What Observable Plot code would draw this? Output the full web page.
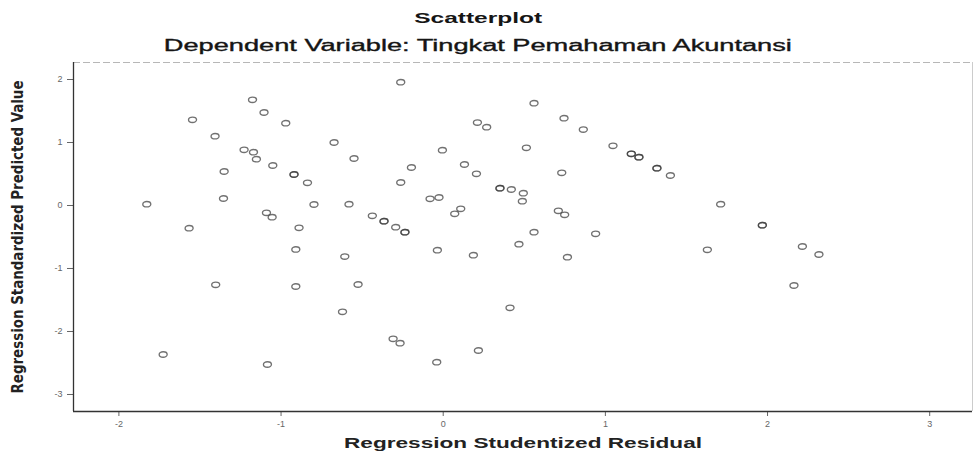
<!DOCTYPE html>
<html><head><meta charset="utf-8">
<script src="https://cdn.jsdelivr.net/npm/d3@7"></script>
<script src="https://cdn.jsdelivr.net/npm/@observablehq/plot@0.6"></script>
<style>
body{margin:0;background:#fff;width:975px;height:458px;overflow:hidden;font-family:"Liberation Sans",Arial,sans-serif;}
#head{position:relative;height:58px;width:975px;}
.t{position:absolute;left:0;width:975px;box-sizing:border-box;padding-right:19px;text-align:center;color:#151515;}
.t span{display:inline-block;white-space:nowrap;transform-origin:center;}
#t1{top:9px;line-height:18px;font-size:15px;font-weight:bold;}
#t2{top:37px;line-height:18px;font-size:16px;-webkit-text-stroke:0.35px #151515;}
#chart svg{display:block;}
</style></head><body>
<div id="head">
  <div class="t" id="t1"><span>Scatterplot</span></div>
  <div class="t" id="t2"><span>Dependent Variable: Tingkat Pemahaman Akuntansi</span></div>
</div>
<div id="chart"></div>
<script>
// Regression Studentized Residual (x) and Regression Standardized Predicted Value (y)
const xResid = [-1.176,-1.105,-1.546,-0.971,-1.407,-1.228,-1.170,-1.152,-1.051,-1.351,-0.920,-0.920,-0.837,-1.355,-1.828,-0.797,-1.090,-1.055,-1.567,-0.889,
-0.262,0.560,0.211,0.268,-0.673,-0.005,0.513,-0.550,-0.196,0.131,0.205,-0.262,0.350,0.350,0.420,0.494,0.488,-0.581,-0.081,-0.026,0.108,0.071,
-0.437,-0.365,-0.365,-0.293,-0.236,-0.236,0.560,
0.745,0.864,1.047,1.160,1.160,1.207,1.207,1.318,1.318,1.401,0.731,0.710,0.749,1.711,1.968,1.968,0.940,
-0.909,-1.403,-0.909,-1.727,-1.084,
0.467,-0.607,-0.036,0.186,-0.525,-0.621,0.412,-0.309,-0.266,0.217,-0.040,
0.766,1.629,2.215,2.317,2.163];
const yPred = [1.678,1.476,1.360,1.306,1.100,0.884,0.846,0.735,0.635,0.540,0.492,0.492,0.360,0.111,0.021,0.016,-0.116,-0.186,-0.360,-0.354,
1.957,1.624,1.317,1.243,1.000,0.878,0.916,0.746,0.603,0.651,0.503,0.365,0.275,0.275,0.254,0.195,0.068,0.021,0.106,0.127,-0.052,-0.132,
-0.163,-0.249,-0.249,-0.344,-0.424,-0.424,-0.424,
1.386,1.206,0.948,0.821,0.821,0.767,0.767,0.592,0.592,0.476,0.519,-0.084,-0.148,0.021,-0.313,-0.313,-0.449,
-0.698,-1.259,-1.286,-2.365,-2.524,
-0.614,-0.810,-0.710,-0.789,-1.254,-1.687,-1.624,-2.116,-2.186,-2.302,-2.487,
-0.821,-0.703,-0.651,-0.778,-1.270];
const xTicks = [-2,-1,0,1,2,3];
const yTicks = [-3,-2,-1,0,1,2];
const xDomain = [-2.28, 3.264];
const yDomain = [-3.27, 2.27];
const xTitle = "Regression Studentized Residual";
const yTitle = "Regression Standardized Predicted Value";

const data = xResid.map((x, i) => ({x, y: yPred[i]}));

// slightly flattened open circle (the scanned SPSS chart is stretched horizontally)
const ellipse = {
  draw(ctx, size) {
    const r = Math.sqrt(size / Math.PI), rx = r, ry = r * 0.68, k = 0.5522848;
    ctx.moveTo(rx, 0);
    ctx.bezierCurveTo(rx, k * ry, k * rx, ry, 0, ry);
    ctx.bezierCurveTo(-k * rx, ry, -rx, k * ry, -rx, 0);
    ctx.bezierCurveTo(-rx, -k * ry, -k * rx, -ry, 0, -ry);
    ctx.bezierCurveTo(k * rx, -ry, rx, -k * ry, rx, 0);
    ctx.closePath();
  }
};

const svg = Plot.plot({
  width: 975, height: 400,
  marginLeft: 73, marginRight: 3, marginTop: 4, marginBottom: 47,
  style: {background: "#fff", fontFamily: "Liberation Sans, Arial, sans-serif"},
  x: {domain: xDomain},
  y: {domain: yDomain},
  marks: [
    Plot.ruleY([yDomain[1]], {stroke: "#999", strokeOpacity: 0.7, strokeDasharray: "7,3"}),
    Plot.ruleX([xDomain[1]], {stroke: "#ccc"}),
    Plot.axisX(xTicks, {tickSize: 5, tickPadding: 4, fontSize: 9, color: "#666", tickFormat: d => String(d), label: null}),
    Plot.axisY(yTicks, {tickSize: 6, tickPadding: 5, fontSize: 9, color: "#666", tickFormat: d => String(d), label: null}),
    Plot.ruleX([xDomain[0]], {stroke: "#333", strokeWidth: 1.3}),
    Plot.ruleY([yDomain[0]], {stroke: "#333", strokeWidth: 1.3}),
    Plot.dot(data, {x: "x", y: "y", r: 4, symbol: ellipse, stroke: "#3a3a3a", strokeOpacity: 0.72, strokeWidth: 1.35, fill: "none"}),
    Plot.text([xTitle], {text: d => d, frameAnchor: "bottom", dy: 36, fontSize: 15, fontWeight: "bold", fill: "#222"}),
    Plot.text([yTitle], {text: d => d, frameAnchor: "left", textAnchor: "middle", dx: -55, rotate: -90, fontSize: 15, fontWeight: "bold", fill: "#222",
      fontFamily: "Liberation Sans Narrow, DejaVu Sans Condensed, sans-serif"})
  ]
});
document.getElementById("chart").appendChild(svg);

d3.select(svg).selectAll("text").each(function() {
  if (this.textContent === xTitle) d3.select(this).attr("textLength", 358).attr("lengthAdjust", "spacingAndGlyphs");
  if (this.textContent === yTitle) d3.select(this).attr("textLength", 313).attr("lengthAdjust", "spacingAndGlyphs");
});

// stretch the titles horizontally like the scanned original
[["#t1 span", 128], ["#t2 span", 628]].forEach(([sel, target]) => {
  const el = document.querySelector(sel);
  const w = el.getBoundingClientRect().width;
  el.style.transform = `scaleX(${target / w})`;
});
</script></body></html>
